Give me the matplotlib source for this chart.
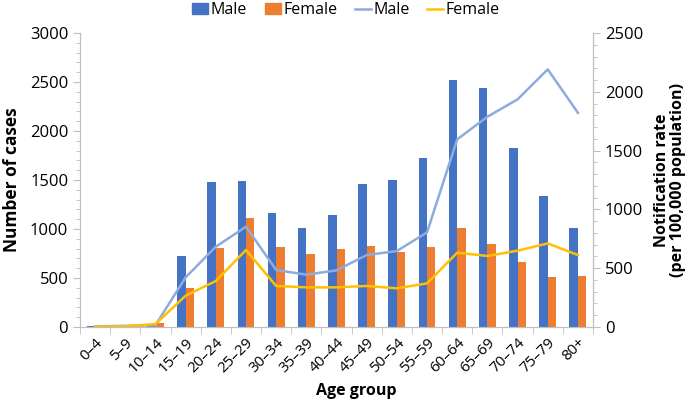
import matplotlib
matplotlib.use("Agg")
import numpy as np
import matplotlib.pyplot as plt
from matplotlib.patches import Patch
from matplotlib.lines import Line2D
from matplotlib.ticker import MultipleLocator

plt.rcParams['font.family'] = ['Open Sans', 'DejaVu Sans']

age_groups = ['0–4', '5–9', '10–14', '15–19', '20–24', '25–29', '30–34', '35–39',
              '40–44', '45–49', '50–54', '55–59', '60–64', '65–69', '70–74', '75–79', '80+']
male_cases = [15, 5, 20, 720, 1475, 1490, 1160, 1010, 1140, 1460, 1505, 1720,
              2525, 2440, 1825, 1335, 1010]
female_cases = [5, 5, 40, 395, 810, 1110, 820, 745, 795, 830, 765, 815,
                1010, 850, 665, 510, 520]
male_rate = [5, 10, 15, 422, 683, 853, 485, 445, 482, 612, 646, 805,
             1596, 1788, 1936, 2191, 1822]
female_rate = [3, 5, 25, 266, 391, 655, 349, 337, 337, 349, 329, 371,
               632, 604, 649, 711, 612]

c_mbar = '#4472C4'
c_fbar = '#ED7D31'
c_mline = '#8FAADC'
c_fline = '#FFC000'
grey = '#BFBFBF'

fig = plt.figure(figsize=(6.85, 4.03), dpi=100)
ax = fig.add_axes([0.1168, 0.1886, 0.7489, 0.7294])
ax2 = ax.twinx()

x = np.arange(len(age_groups))
w = 0.28
ax.bar(x - w / 2, male_cases, width=w, color=c_mbar, zorder=2)
ax.bar(x + w / 2, female_cases, width=w, color=c_fbar, zorder=2)
ax2.plot(x, male_rate, color=c_mline, lw=1.8)
ax2.plot(x, female_rate, color=c_fline, lw=1.8)

ax.set_xlim(-0.5, len(age_groups) - 0.5)
ax.set_ylim(0, 3000)
ax2.set_ylim(0, 2500)
ax.yaxis.set_major_locator(MultipleLocator(500))
ax.yaxis.set_minor_locator(MultipleLocator(100))
ax2.yaxis.set_major_locator(MultipleLocator(500))
ax2.yaxis.set_minor_locator(MultipleLocator(100))

ax.set_xticks(x)
ax.set_xticklabels(age_groups, rotation=45, ha='right', rotation_mode='anchor', fontsize=11)
ax.tick_params(axis='x', length=0, pad=6)
ax.set_xticks(np.arange(-0.5, len(age_groups)), minor=True)
ax.tick_params(axis='x', which='minor', length=5, color=grey)

for a in (ax, ax2):
    a.spines['top'].set_visible(False)
    for s in ('left', 'right', 'bottom'):
        a.spines[s].set_color(grey)
    a.tick_params(axis='y', which='major', length=5, color=grey, labelsize=12)
    a.tick_params(axis='y', which='minor', length=3, color=grey)

ax.set_xlabel('Age group', fontsize=11.5, fontweight='bold', labelpad=3)
ax.xaxis.set_label_coords(0.538, -0.19)
ax.set_ylabel('Number of cases', fontsize=12.5, fontweight='bold', labelpad=6)
ax2.set_ylabel('Notification rate\n(per 100,000 population)', fontsize=11.5,
               fontweight='bold', labelpad=8, linespacing=0.95)

handles = [Patch(color=c_mbar), Patch(color=c_fbar),
           Line2D([], [], color=c_mline, lw=1.8), Line2D([], [], color=c_fline, lw=1.8)]
fig.legend(handles, ['Male', 'Female', 'Male', 'Female'], loc='upper center',
           bbox_to_anchor=(0.505, 1.03), ncol=4, frameon=False, fontsize=11.5,
           handlelength=1.0, handletextpad=0.15, columnspacing=1.1)

fig.savefig('out.png', dpi=100)
